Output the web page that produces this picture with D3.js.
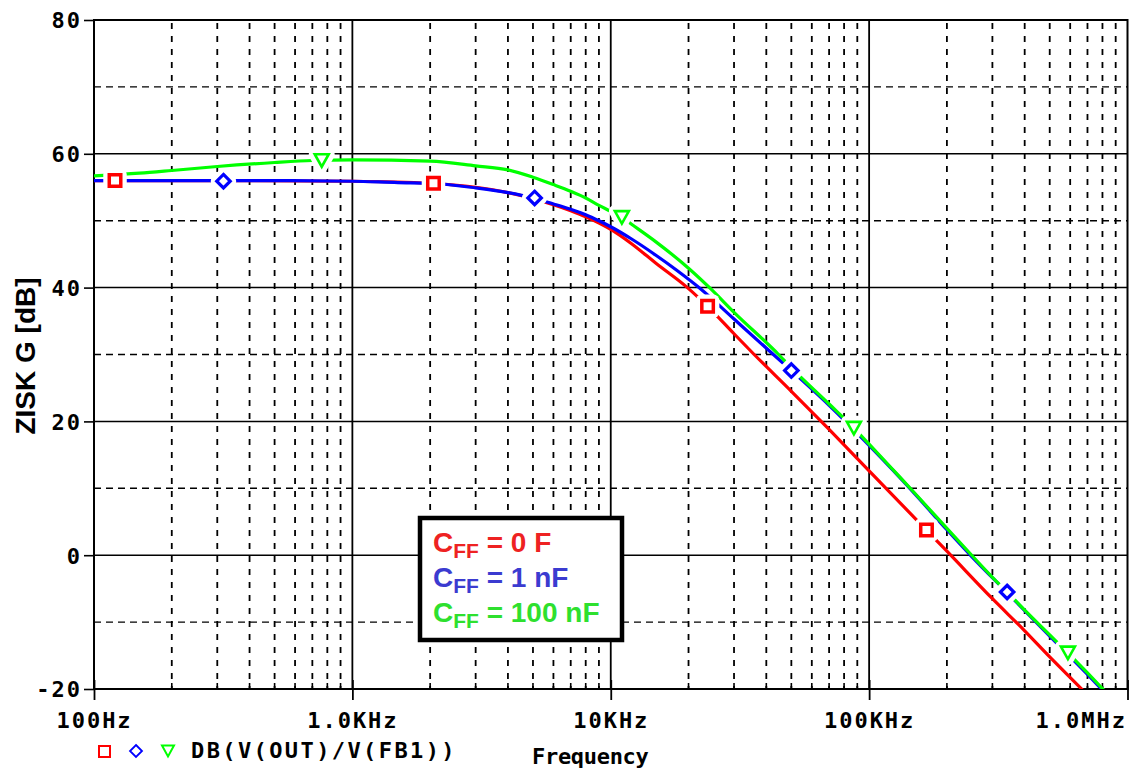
<!DOCTYPE html>
<html>
<head>
<meta charset="utf-8">
<script src="https://cdn.jsdelivr.net/npm/d3@7"></script>
<style>
  html, body { margin: 0; padding: 0; background: #fff; }
  svg { display: block; }
</style>
</head>
<body>
<div id="chart"></div>
<script>
// ---------------- DATA ----------------
const freqRed = [100, 300, 1000, 2000, 3000, 4000, 5000, 6000, 7000, 8000, 10000, 12000, 15000, 19800, 23700, 30000, 35900, 50000, 70000, 100000, 166700, 200000, 300000, 400000, 500000, 672000, 720000];
const dbRed   = [56.0, 56.0, 55.9, 55.6, 55.0, 54.2, 53.3, 52.4, 51.5, 50.6, 48.7, 46.6, 43.6, 40.0, 37.2, 33.1, 30.0, 24.5, 18.8, 12.6, 3.75, 0.6, -6.5, -11.3, -15.2, -20.2, -21.4];

const freqBlue = [100, 500, 1000, 1500, 2000, 3000, 4000, 5000, 6000, 7000, 8000, 9000, 10000, 12000, 15000, 18000, 22300, 30000, 42600, 50000, 70000, 100000, 150000, 200000, 248000, 342000, 500000, 700000, 803000, 850000];
const dbBlue   = [56.0, 56.0, 55.9, 55.7, 55.6, 54.9, 54.2, 53.4, 52.5, 51.7, 50.9, 50.0, 49.1, 47.3, 44.8, 42.6, 39.8, 35.3, 30.0, 27.6, 22.4, 16.4, 9.2, 3.8, -0.1, -5.6, -12.1, -17.8, -20.2, -21.1];

const freqGreen = [100, 150, 200, 300, 500, 700, 1000, 2000, 3000, 4000, 5000, 6000, 7000, 8000, 9000, 10000, 11040, 12000, 15000, 20000, 24400, 30000, 44600, 50000, 70000, 87300, 100000, 127000, 150000, 200000, 248000, 300000, 342000, 400000, 500000, 588000, 700000, 803000, 850000];
const dbGreen   = [56.7, 57.1, 57.5, 58.1, 58.7, 59.0, 59.1, 58.9, 58.2, 57.6, 56.5, 55.4, 54.4, 53.4, 52.3, 51.4, 50.5, 49.5, 46.8, 42.9, 39.8, 36.3, 30.0, 28.0, 22.6, 19.0, 16.6, 12.3, 9.3, 4.0, 0.1, -3.3, -5.5, -8.2, -11.9, -14.6, -17.6, -20.0, -21.0];

// marker positions (frequency, dB)
const redMarkF   = [120.6, 2060, 23700, 166700];
const redMarkDb  = [56.0, 55.6, 37.2, 3.75];
const blueMarkF  = [317, 5073, 50000, 342000];
const blueMarkDb = [55.9, 53.4, 27.6, -5.5];
const greenMarkF  = [761, 11040, 87300, 588000];
const greenMarkDb = [59.0, 50.5, 19.0, -14.6];

const yTicks = [-20, 0, 20, 40, 60, 80];
const yTickLabels = ["-20", "0", "20", "40", "60", "80"];
const yGridDashed = [-10, 10, 30, 50, 70];
const xTicks = [100, 1000, 10000, 100000, 1000000];
const xTickLabels = ["100Hz", "1.0KHz", "10KHz", "100KHz", "1.0MHz"];

const legendLabels = ["C", "C", "C"];
const legendSubs = ["FF", "FF", "FF"];
const legendValues = [" = 0 F", " = 1 nF", " = 100 nF"];

const traceName = "DB(V(OUT)/V(FB1))";
const xTitle = "Frequency";
const yTitle = "ZISK G [dB]";

// ---------------- LAYOUT ----------------
const W = 1136, H = 772;
const L = 94, R = 1127.5, T = 20, B = 689;
const mono = "'DejaVu Sans Mono', monospace";
const sans = "'Liberation Sans', Arial, sans-serif";

const cRed = "#ff0000", cBlue = "#0000ff", cGreen = "#00ff00";
const tRed = "#ee2222", tBlue = "#3b3bd0", tGreen = "#2ee02e";

const svg = d3.select("#chart").append("svg").attr("width", W).attr("height", H);

const x = d3.scaleLog().domain([100, 1e6]).range([L, R]);
const y = d3.scaleLinear().domain([-20, 80]).range([B, T]);

svg.append("defs").append("clipPath").attr("id", "clip")
  .append("rect").attr("x", L).attr("y", T).attr("width", R - L).attr("height", B - T);

// grid
const minorF = [];
for (let d = 100; d < 1e6; d *= 10) for (let k = 2; k <= 9; k++) minorF.push(d * k);
const g = svg.append("g");
g.selectAll("line.vminor").data(minorF).join("line")
  .attr("x1", d => x(d)).attr("x2", d => x(d)).attr("y1", T + 3).attr("y2", B)
  .attr("stroke", "#000").attr("stroke-width", 1.8).attr("stroke-dasharray", "6,7");
g.selectAll("line.hminor").data(yGridDashed).join("line")
  .attr("x1", L).attr("x2", R).attr("y1", d => y(d)).attr("y2", d => y(d))
  .attr("stroke", "#000").attr("stroke-width", 1.4).attr("stroke-dasharray", "7,5");
g.selectAll("line.vmajor").data(xTicks.slice(1, -1)).join("line")
  .attr("x1", d => x(d)).attr("x2", d => x(d)).attr("y1", T).attr("y2", B)
  .attr("stroke", "#000").attr("stroke-width", 1.8);
g.selectAll("line.hmajor").data(yTicks.slice(1, -1)).join("line")
  .attr("x1", L).attr("x2", R).attr("y1", d => y(d)).attr("y2", d => y(d))
  .attr("stroke", "#000").attr("stroke-width", 1.5);

// bottom minor ticks
g.selectAll("line.bt").data(minorF).join("line")
  .attr("x1", d => x(d)).attr("x2", d => x(d)).attr("y1", B - 6).attr("y2", B)
  .attr("stroke", "#000").attr("stroke-width", 1.6);

// frame
svg.append("rect").attr("x", L).attr("y", T).attr("width", R - L).attr("height", B - T)
  .attr("fill", "none").attr("stroke", "#000").attr("stroke-width", 2);

// axes
const yAxis = d3.axisLeft(y).tickValues(yTicks).tickSize(10).tickPadding(4)
  .tickFormat((d, i) => yTickLabels[i]);
const ya = svg.append("g").attr("transform", `translate(${L},0)`).call(yAxis);
ya.select(".domain").remove();
ya.selectAll(".tick line").attr("stroke", "#000").attr("stroke-width", 1.6);
ya.selectAll(".tick text").attr("font-family", mono).attr("font-weight", "bold")
  .attr("font-size", 22).attr("letter-spacing", 2).attr("fill", "#000")
  .attr("x", -12).attr("dy", "0.36em");

const xAxis = d3.axisBottom(x).tickValues(xTicks).tickSize(11).tickPadding(4)
  .tickFormat((d, i) => xTickLabels[i]);
const xa = svg.append("g").attr("transform", `translate(0,${B})`).call(xAxis);
xa.select(".domain").remove();
xa.selectAll(".tick line").attr("stroke", "#000").attr("stroke-width", 1.8).attr("y1", -9);
xa.selectAll(".tick text").attr("font-family", mono).attr("font-weight", "bold")
  .attr("font-size", 22).attr("letter-spacing", 2).attr("fill", "#000")
  .attr("y", 39).attr("dy", 0);
xa.selectAll(".tick text").filter((d, i) => i === xTicks.length - 1)
  .attr("text-anchor", "end").attr("dx", R - x(1e6) - 1);

// curves
const line = d3.line().x(d => x(d[0])).y(d => y(d[1])).curve(d3.curveMonotoneX);
const curves = svg.append("g").attr("clip-path", "url(#clip)");
[[freqRed, dbRed, cRed], [freqBlue, dbBlue, cBlue], [freqGreen, dbGreen, cGreen]].forEach(([f, v, c]) => {
  curves.append("path").datum(f.map((fr, i) => [fr, v[i]]))
    .attr("d", line).attr("fill", "none").attr("stroke", c).attr("stroke-width", 3.2)
    .attr("stroke-linejoin", "round");
});

// marker shapes
function squarePath(s) { const h = s / 2; return `M${-h},${-h}H${h}V${h}H${-h}Z`; }
function diamondPath(s) { const h = s / 2; return `M0,${-h}L${h},0L0,${h}L${-h},0Z`; }
function triPath(w, hgt) { return `M${-w/2},${-hgt/2}H${w/2}L0,${hgt/2}Z`; }

const markerSets = [
  { f: redMarkF, v: redMarkDb, c: cRed, p: squarePath(11.5), sw: 3.5 },
  { f: blueMarkF, v: blueMarkDb, c: cBlue, p: diamondPath(13.5), sw: 3.2 },
  { f: greenMarkF, v: greenMarkDb, c: cGreen, p: triPath(14, 12.5), sw: 2.6 }
];
const mk = svg.append("g");
markerSets.forEach(ms => {
  mk.selectAll(null).data(ms.f.map((fr, i) => [fr, ms.v[i]])).join("path")
    .attr("transform", d => `translate(${x(d[0])},${y(d[1])})`)
    .attr("d", ms.p).attr("fill", "#fff").attr("stroke", "#fff").attr("stroke-width", 12)
    .attr("stroke-linejoin", "round");
});
markerSets.forEach(ms => {
  mk.selectAll(null).data(ms.f.map((fr, i) => [fr, ms.v[i]])).join("path")
    .attr("transform", d => `translate(${x(d[0])},${y(d[1])})`)
    .attr("d", ms.p).attr("fill", "#fff").attr("stroke", ms.c).attr("stroke-width", ms.sw);
});

// legend box
const lb = svg.append("g");
lb.append("rect").attr("x", 420).attr("y", 518).attr("width", 202).attr("height", 122)
  .attr("fill", "#fff").attr("stroke", "#000").attr("stroke-width", 4.5);
const lcolors = [tRed, tBlue, tGreen];
legendLabels.forEach((lab, i) => {
  const t = lb.append("text").attr("x", 433).attr("y", 552 + i * 35)
    .attr("font-family", sans).attr("font-weight", "bold").attr("font-size", 28)
    .attr("fill", lcolors[i]);
  t.append("tspan").text(lab);
  t.append("tspan").attr("font-size", 21).attr("dy", 6).text(legendSubs[i]);
  t.append("tspan").attr("dy", -6).text(legendValues[i]);
});

// bottom trace legend
const bl = svg.append("g");
bl.append("path").attr("transform", "translate(104.5,751.5)").attr("d", squarePath(11))
  .attr("fill", "none").attr("stroke", cRed).attr("stroke-width", 2);
bl.append("path").attr("transform", "translate(136,751)").attr("d", diamondPath(12))
  .attr("fill", "none").attr("stroke", cBlue).attr("stroke-width", 1.8);
bl.append("path").attr("transform", "translate(168,751)").attr("d", triPath(12, 11))
  .attr("fill", "none").attr("stroke", cGreen).attr("stroke-width", 2);
bl.append("text").attr("x", 191).attr("y", 758).text(traceName)
  .attr("font-family", mono).attr("font-weight", "bold").attr("font-size", 22)
  .attr("letter-spacing", 2.4).attr("fill", "#000");

// axis titles
svg.append("text").attr("x", 532).attr("y", 764).text(xTitle)
  .attr("font-family", mono).attr("font-weight", "bold").attr("font-size", 22)
  .attr("letter-spacing", -0.3).attr("fill", "#000");
svg.append("text").attr("transform", "translate(35,356) rotate(-90)")
  .attr("text-anchor", "middle").text(yTitle)
  .attr("font-family", sans).attr("font-weight", "bold").attr("font-size", 28)
  .attr("fill", "#000");
</script>
</body>
</html>
